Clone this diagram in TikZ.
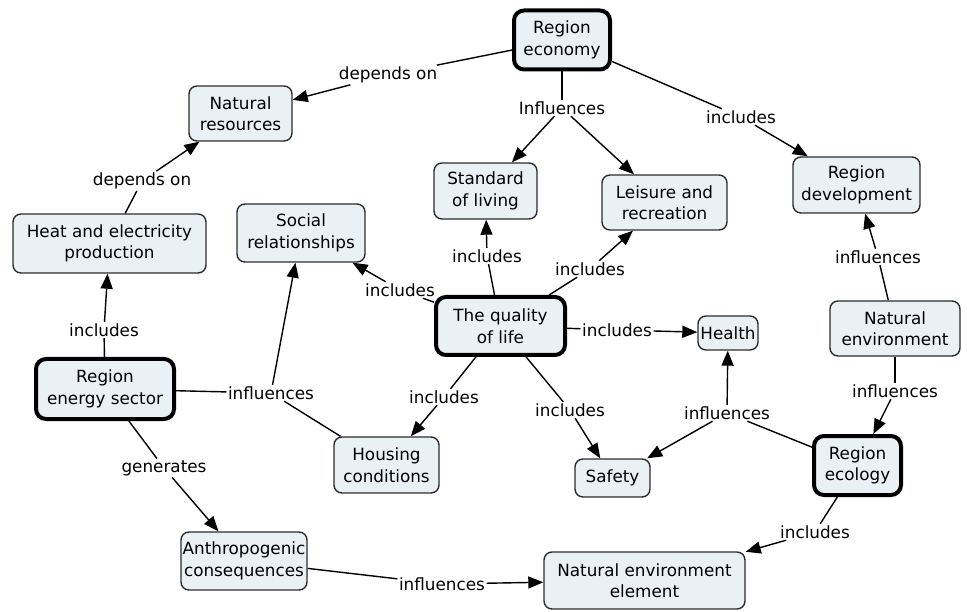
\documentclass[tikz,border=0pt]{standalone}
\usepackage{fontspec}
\setmainfont{DejaVu Sans}
\usetikzlibrary{arrows.meta}
\definecolor{boxfill}{RGB}{234,241,245}
\definecolor{boxline}{RGB}{45,45,45}
\begin{document}
\begin{tikzpicture}[x=1pt,y=-1pt,
 concept/.style={draw=boxline, line width=1.4pt, fill=boxfill, rounded corners=8pt, align=center, inner sep=0pt, font=\fontsize{16.8}{21.5}\selectfont},
 key/.style={concept, line width=4pt, draw=black, rounded corners=10pt},
 lbl/.style={font=\fontsize{16.8}{21.5}\selectfont, inner sep=1.5pt},
 ln/.style={draw=black, line width=1.4pt},
 arr/.style={ln, -{Triangle[length=15pt,width=12pt]}}
]
\useasboundingbox[fill=white] (0,0) rectangle (967,612);
% concepts
\node[key, minimum width=96pt, minimum height=59pt] (econ) at (562,40) {Region\\economy};
\node[concept, minimum width=103pt, minimum height=55pt] (natres) at (240.5,113.5) {Natural\\resources};
\node[concept, minimum width=103pt, minimum height=56pt] (std) at (485.5,191) {Standard\\of living};
\node[concept, minimum width=125pt, minimum height=55pt] (leis) at (664.5,202.5) {Leisure and\\recreation};
\node[concept, minimum width=127pt, minimum height=56pt] (rdev) at (856.5,185) {Region\\development};
\node[concept, minimum width=128pt, minimum height=58pt] (soc) at (301,233) {Social\\relationships};
\node[concept, minimum width=193pt, minimum height=59pt] (heat) at (109.5,243.5) {Heat and electricity\\production};
\node[key, minimum width=129pt, minimum height=58pt] (qol) at (500.5,326) {The quality\\of life};
\node[concept, minimum width=60pt, minimum height=34pt] (health) at (728,333) {Health};
\node[concept, minimum width=130pt, minimum height=55pt] (natenv) at (895,328.5) {Natural\\environment};
\node[key, minimum width=138pt, minimum height=60pt] (energy) at (105,389) {Region\\energy sector};
\node[concept, minimum width=105pt, minimum height=56pt] (house) at (386.5,465) {Housing\\conditions};
\node[concept, minimum width=75pt, minimum height=38pt] (safety) at (612.5,478) {Safety};
\node[key, minimum width=87pt, minimum height=59pt] (ecol) at (857.5,465.5) {Region\\ecology};
\node[concept, minimum width=126pt, minimum height=58pt] (anthro) at (244,561) {Anthropogenic\\consequences};
\node[concept, minimum width=201pt, minimum height=57pt] (nee) at (644.5,580.5) {Natural environment\\element};
% linking phrases
\node[lbl] (l1) at (388,75) {depends on};
\node[lbl] (l2) at (562,108) {Influences};
\node[lbl] (l3) at (741,117) {includes};
\node[lbl] (l4) at (142,181) {depends on};
\node[lbl] (l5) at (104,330) {includes};
\node[lbl] (l6) at (271,393) {influences};
\node[lbl] (l7) at (164,468) {generates};
\node[lbl] (l8) at (400,290) {includes};
\node[lbl] (l9) at (487,256) {includes};
\node[lbl] (l10) at (590,269) {includes};
\node[lbl] (l11) at (617,330) {includes};
\node[lbl] (l12) at (444,397) {includes};
\node[lbl] (l13) at (570,410) {includes};
\node[lbl] (l14) at (878,257) {influences};
\node[lbl] (l15) at (895,391) {influences};
\node[lbl] (l16) at (727,413) {influences};
\node[lbl] (l17) at (815,532) {includes};
\node[lbl] (l18) at (442,584) {influences};
% connectors
\draw[ln] (econ) -- (l1); \draw[arr] (l1) -- (natres);
\draw[ln] (econ) -- (l2); \draw[arr] (l2) -- (std); \draw[arr] (l2) -- (leis);
\draw[ln] (econ) -- (l3); \draw[arr] (l3) -- (rdev);
\draw[ln] (heat) -- (l4); \draw[arr] (l4) -- (natres);
\draw[ln] (energy) -- (l5); \draw[arr] (l5) -- (heat);
\draw[ln] (energy) -- (l6); \draw[ln] (house) -- (l6); \draw[arr] (l6) -- (soc);
\draw[ln] (energy) -- (l7); \draw[arr] (l7) -- (anthro);
\draw[ln] (qol) -- (l8); \draw[arr] (l8) -- (soc);
\draw[ln] (qol) -- (l9); \draw[arr] (l9) -- (std);
\draw[ln] (qol) -- (l10); \draw[arr] (l10) -- (leis);
\draw[ln] (qol) -- (l11); \draw[arr] (l11) -- (health);
\draw[ln] (qol) -- (l12); \draw[arr] (l12) -- (house);
\draw[ln] (qol) -- (l13); \draw[arr] (l13) -- (safety);
\draw[ln] (natenv) -- (l14); \draw[arr] (l14) -- (rdev);
\draw[ln] (natenv) -- (l15); \draw[arr] (l15) -- (ecol);
\draw[ln] (ecol) -- (l16); \draw[arr] (l16) -- (health); \draw[arr] (l16) -- (safety);
\draw[ln] (ecol) -- (l17); \draw[arr] (l17) -- (nee);
\draw[ln] (anthro) -- (l18); \draw[arr] (l18) -- (nee);
\end{tikzpicture}
\end{document}
